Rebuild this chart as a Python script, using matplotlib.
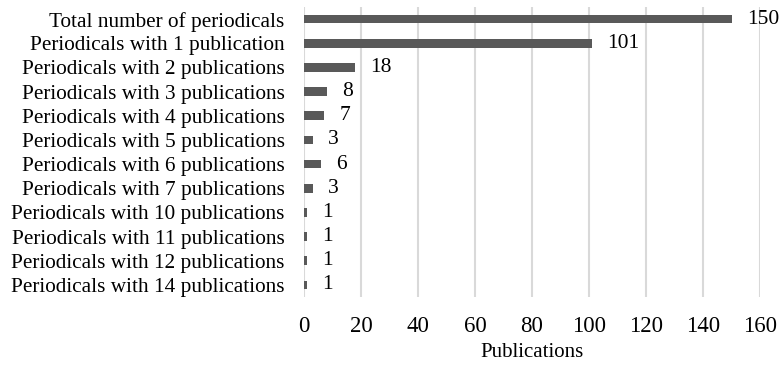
import matplotlib.pyplot as plt

plt.rcParams['font.family'] = ['Liberation Serif', 'DejaVu Serif']

#--categories and counts, top to bottom
categories = ['Total number of periodicals',
              'Periodicals with 1 publication',
              'Periodicals with 2 publications',
              'Periodicals with 3 publications',
              'Periodicals with 4 publications',
              'Periodicals with 5 publications',
              'Periodicals with 6 publications',
              'Periodicals with 7 publications',
              'Periodicals with 10 publications',
              'Periodicals with 11 publications',
              'Periodicals with 12 publications',
              'Periodicals with 14 publications']
counts = [150, 101, 18, 8, 7, 3, 6, 3, 1, 1, 1, 1]
xticks = [0, 20, 40, 60, 80, 100, 120, 140, 160]

fig = plt.figure(figsize=(7.81, 3.69), dpi=100)
ax = fig.add_axes([304/781, 1 - 297/369, 456/781, 290/369])

pos = list(range(len(categories)))
ax.barh(pos, counts, height=0.36, color='#595959', zorder=3)
ax.set_ylim(len(categories) - 0.5, -0.5)
ax.set_xlim(0, 160)

for p, c in zip(pos, counts):
    ax.annotate(str(c), (c, p), xytext=(11, 0), textcoords='offset points',
                va='center', ha='left', fontsize=15.5)

ax.set_yticks(pos)
ax.set_yticklabels(categories, fontsize=15.3)
ax.set_xticks(xticks)
ax.set_xticklabels([str(t) for t in xticks], fontsize=16.5)
ax.tick_params(axis='both', length=0)
ax.tick_params(axis='x', pad=14)
ax.tick_params(axis='y', pad=14)

ax.grid(axis='x', color='#d9d9d9', linewidth=1.5, zorder=0)
for s in ax.spines.values():
    s.set_visible(False)

ax.set_xlabel('Publications', fontsize=15, labelpad=4)

fig.savefig('out.png', dpi=100)
